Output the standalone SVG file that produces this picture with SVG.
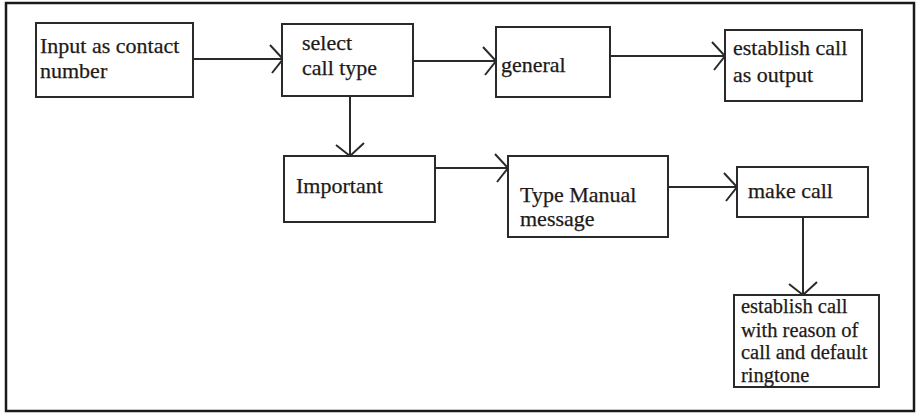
<svg xmlns="http://www.w3.org/2000/svg" width="918" height="414" viewBox="0 0 918 414">
<defs>
<style>
.box{fill:#fff;stroke:#2a2a2a;stroke-width:2}
.t{font-size:22px;fill:#1e1a18;stroke:#1e1a18;stroke-width:0.25}
.s{font-size:20.5px}
.c{fill:none;stroke:#2a2a2a;stroke-width:2}
</style>
<marker id="ah" markerUnits="userSpaceOnUse" markerWidth="40" markerHeight="40" viewBox="-20 -20 40 40" refX="0" refY="0" orient="auto" overflow="visible">
<path d="M-13,-14 L0,0 L-11,14" fill="none" stroke="#2a2a2a" stroke-width="2"/>
</marker>
</defs>
<rect x="0" y="0" width="918" height="414" fill="#fff"/>
<rect x="6" y="3" width="908" height="408" fill="none" stroke="#1a1a1a" stroke-width="2.5"/>
<g id="connectors">
<line class="c" x1="193" y1="59" x2="283" y2="59" marker-end="url(#ah)"/>
<line class="c" x1="413" y1="61" x2="496" y2="61" marker-end="url(#ah)"/>
<line class="c" x1="610" y1="56" x2="725" y2="56" marker-end="url(#ah)"/>
<line class="c" x1="350" y1="96" x2="350" y2="156" marker-end="url(#ah)"/>
<line class="c" x1="435" y1="168" x2="508" y2="168" marker-end="url(#ah)"/>
<line class="c" x1="668" y1="187" x2="737" y2="187" marker-end="url(#ah)"/>
<line class="c" x1="803" y1="217" x2="803" y2="295" marker-end="url(#ah)"/>
</g>
<g font-family="'Liberation Serif', 'DejaVu Serif', serif">
<g id="input">
<rect class="box" x="36" y="23" width="157" height="74"/>
<text class="t" x="40" y="53">Input as contact</text>
<text class="t" x="40" y="78">number</text>
</g>
<g id="select">
<rect class="box" x="282" y="24" width="131" height="72"/>
<text class="t" x="302" y="50">select</text>
<text class="t" x="302" y="75">call type</text>
</g>
<g id="general">
<rect class="box" x="496" y="27" width="114" height="70"/>
<text class="t" x="501" y="72">general</text>
</g>
<g id="establish-output">
<rect class="box" x="725" y="30" width="137" height="71"/>
<text class="t" x="733" y="55">establish call</text>
<text class="t" x="733" y="82">as output</text>
</g>
<g id="important">
<rect class="box" x="284" y="156" width="151" height="66"/>
<text class="t" x="296" y="193">Important</text>
</g>
<g id="type-manual">
<rect class="box" x="508" y="156" width="160" height="81"/>
<text class="t" x="520" y="202">Type Manual</text>
<text class="t" x="520" y="226">message</text>
</g>
<g id="make-call">
<rect class="box" x="737" y="167" width="131" height="50"/>
<text class="t" x="748" y="198">make call</text>
</g>
<g id="establish-reason">
<rect class="box" x="734" y="295" width="145" height="92"/>
<text class="t s" x="741" y="313">establish call</text>
<text class="t s" x="741" y="337">with reason of</text>
<text class="t s" x="741" y="359">call and default</text>
<text class="t s" x="741" y="382">ringtone</text>
</g>
</g>
</svg>
